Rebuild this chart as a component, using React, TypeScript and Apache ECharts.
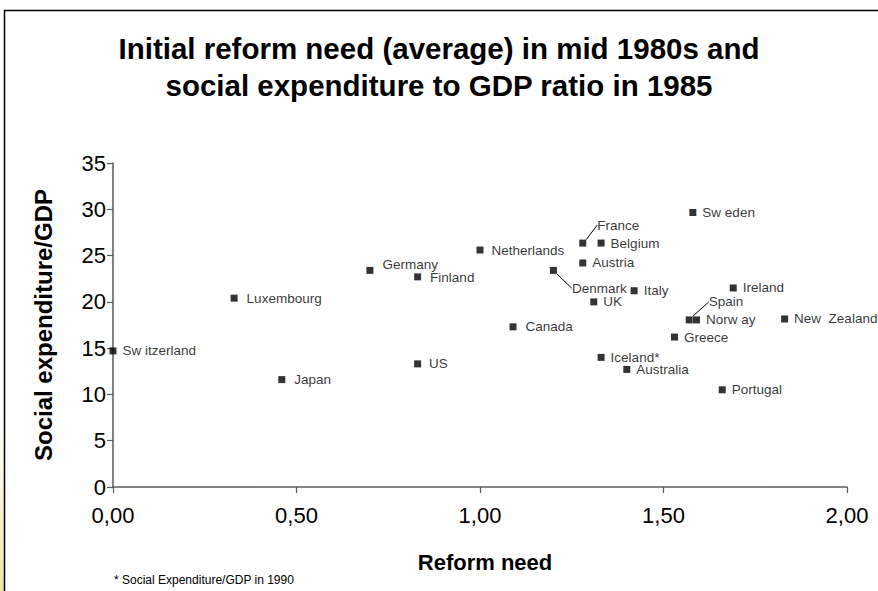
import React, { useEffect, useRef } from "react";
import * as echarts from "echarts";

const countryLabels = [
  "Sw itzerland", "Luxembourg", "Japan", "Germany", "Finland", "US", "Netherlands",
  "Canada", "Denmark", "France", "Belgium", "Austria", "UK", "Italy", "Iceland*",
  "Australia", "Sw eden", "Ireland", "Spain", "Norw ay", "New  Zealand", "Greece", "Portugal",
];
const reformNeed = [
  0.0, 0.33, 0.46, 0.70, 0.83, 0.83, 1.0,
  1.09, 1.20, 1.28, 1.33, 1.28, 1.31, 1.42, 1.33,
  1.40, 1.58, 1.69, 1.57, 1.59, 1.83, 1.53, 1.66,
];
const socialExp = [
  14.7, 20.4, 11.6, 23.4, 22.7, 13.3, 25.6,
  17.3, 23.4, 26.35, 26.35, 24.2, 20.0, 21.2, 14.0,
  12.7, 29.65, 21.5, 18.05, 18.05, 18.15, 16.2, 10.5,
];
const xTicks = { min: 0, max: 2, interval: 0.5 };
const yTicks = { min: 0, max: 35, interval: 5 };
const titleText = "Initial reform need (average) in mid 1980s and\nsocial expenditure to GDP ratio in 1985";
const xName = "Reform need";
const yName = "Social expenditure/GDP";
const footnote = "* Social Expenditure/GDP in 1990";

// label placement tweaks (style only)
const labelShift: Record<string, [number, number]> = {
  "Germany": [3, -6],
  "Finland": [3, 1],
  "Luxembourg": [3, 0],
  "Japan": [3, 0],
  "US": [2, 0],
  "Netherlands": [2, 0],
  "Canada": [3, 0],
  "Denmark": [9, 18],
  "France": [5, -18],
  "Spain": [10, -18],
};
const withLeader = new Set(["Denmark", "France", "Spain"]);

const FONT = "'Liberation Sans', Arial, sans-serif";

export default function App() {
  const ref = useRef<HTMLDivElement>(null);
  useEffect(() => {
    if (!ref.current) return;
    const chart = echarts.init(ref.current, undefined, { renderer: "svg" });
    const data = countryLabels.map((name, i) => {
      const item: any = { name, value: [reformNeed[i], socialExp[i]] };
      if (withLeader.has(name)) {
        item.labelLine = { show: true, lineStyle: { color: "#000", width: 1 } };
      }
      return item;
    });
    chart.setOption({
      animation: false,
      backgroundColor: "#ffffff",
      title: {
        text: titleText,
        left: "center",
        top: 30,
        padding: 0,
        textStyle: {
          fontFamily: FONT,
          fontSize: 29.5,
          fontWeight: "bold",
          color: "#000",
          lineHeight: 37,
        },
      },
      grid: { left: 113, right: 31, top: 163, bottom: 104, containLabel: false },
      xAxis: {
        type: "value",
        min: xTicks.min,
        max: xTicks.max,
        interval: xTicks.interval,
        name: xName,
        nameLocation: "middle",
        nameGap: 64,
        nameTextStyle: {
          fontFamily: FONT,
          fontSize: 22,
          fontWeight: "bold",
          color: "#000",
          padding: [0, 0, 0, 10],
        },
        axisLine: { show: true, onZero: false, lineStyle: { color: "#5a5a5a", width: 1.5 } },
        axisTick: { show: true, length: 6, lineStyle: { color: "#5a5a5a", width: 1.2 } },
        splitLine: { show: false },
        axisLabel: {
          fontFamily: FONT,
          fontSize: 22,
          color: "#000",
          margin: 17,
          formatter: (v: number) => v.toFixed(2).replace(".", ","),
        },
      },
      yAxis: {
        type: "value",
        min: yTicks.min,
        max: yTicks.max,
        interval: yTicks.interval,
        name: yName,
        nameLocation: "middle",
        nameGap: 58,
        nameTextStyle: { fontFamily: FONT, fontSize: 24, fontWeight: "bold", color: "#000" },
        axisLine: { show: true, onZero: false, lineStyle: { color: "#5a5a5a", width: 1.5 } },
        axisTick: { show: true, length: 6, lineStyle: { color: "#5a5a5a", width: 1.2 } },
        splitLine: { show: false },
        axisLabel: { fontFamily: FONT, fontSize: 22, color: "#000", margin: 7 },
      },
      series: [
        {
          type: "scatter",
          symbol: "rect",
          symbolSize: 7,
          itemStyle: { color: "#000" },
          clip: false,
          data,
          label: {
            show: true,
            position: "right",
            distance: 6,
            formatter: (p: any) => p.name,
            fontFamily: FONT,
            fontSize: 13.5,
            color: "#000",
          },
          labelLayout: (p: any) => {
            const name = countryLabels[p.dataIndex];
            const s = labelShift[name];
            return s ? { dx: s[0], dy: s[1] } : {};
          },
        },
      ],
      graphic: [
        {
          type: "rect",
          left: 0,
          top: 410,
          z: -1,
          shape: { width: 5, height: 181 },
          style: {
            fill: new echarts.graphic.LinearGradient(0, 0, 0, 1, [
              { offset: 0, color: "rgba(245,238,190,0)" },
              { offset: 1, color: "rgba(240,230,160,1)" },
            ]),
          },
        },
        {
          type: "rect",
          shape: { x: 4.5, y: 10.5, width: 900, height: 700 },
          style: { fill: "none", stroke: "#000", lineWidth: 1.5 },
          z: 10,
        },
        {
          type: "text",
          left: 114,
          top: 574,
          style: { text: footnote, fontFamily: FONT, fontSize: 12, fill: "#000" },
        },
      ],
    });
    return () => chart.dispose();
  }, []);
  return (
    <div
      ref={ref}
      style={{ position: "fixed", left: 0, top: 0, width: 878, height: 591 }}
    />
  );
}
